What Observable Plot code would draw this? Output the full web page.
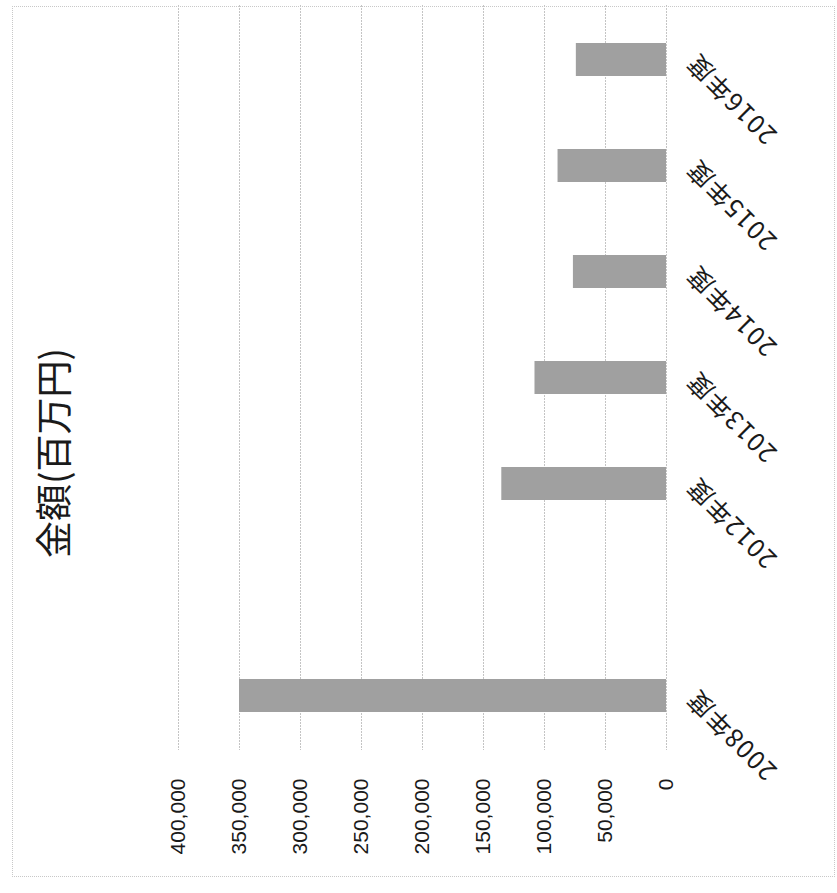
<!DOCTYPE html>
<html><head><meta charset="utf-8">
<script src="https://cdn.jsdelivr.net/npm/d3@7"></script>
<script src="https://cdn.jsdelivr.net/npm/@observablehq/plot@0.6"></script>
<style>
html,body{margin:0;padding:0;background:#fff;}
#wrap{position:relative;width:837px;height:893px;overflow:hidden;}
#border{position:absolute;left:12px;top:6px;width:821px;height:869px;border:1px dotted #c8c8c8;pointer-events:none;}
g[font-size="25"] text{letter-spacing:1.5px;}
</style></head><body>
<div id="wrap"><div id="border"></div></div>
<script>
const title = "金額(百万円)";
const categories = ["2008年度", "", "2012年度", "2013年度", "2014年度", "2015年度", "2016年度"];
const values = [350000, null, 135000, 107800, 76300, 88900, 73900];
const ticks = [0, 50000, 100000, 150000, 200000, 250000, 300000, 350000, 400000];
const tickLabels = ["0", "50,000", "100,000", "150,000", "200,000", "250,000", "300,000", "350,000", "400,000"];

const data = categories.map((c, i) => ({category: c, value: values[i]}));
const tickData = ticks.map((t, i) => ({t, label: tickLabels[i]}));

const chart = Plot.plot({
  width: 837, height: 893,
  marginLeft: 178, marginRight: 171, marginTop: 5, marginBottom: 143,
  x: {domain: [0, 400000], reverse: true, axis: null},
  y: {domain: categories, reverse: true, paddingInner: 0.69, paddingOuter: 0.345, axis: null},
  style: {background: "transparent", color: "#1a1a1a"},
  marks: [
    Plot.gridX(ticks, {stroke: "#c4c4c4", strokeOpacity: 1, strokeDasharray: "2,1"}),
    Plot.barX(data.filter(d => d.value != null), {y: "category", x: "value", fill: "#a0a0a0"}),
    Plot.text(tickData, {x: "t", text: "label", frameAnchor: "bottom", dy: 28, rotate: -90,
      textAnchor: "end", lineAnchor: "middle", fontSize: 21, fontFamily: "Liberation Sans, Arial, sans-serif", fill: "#1a1a1a"}),
    Plot.text(data, {x: () => 0, y: "category", text: "category", dx: 25, dy: -2, rotate: -135,
      textAnchor: "end", lineAnchor: "middle", fontSize: 25, fontFamily: "Noto Sans CJK JP, sans-serif", fill: "#1a1a1a"}),
    Plot.text([title], {text: d => d, frameAnchor: "left", dx: -122, dy: 75, rotate: -90,
      textAnchor: "middle", lineAnchor: "middle", fontSize: 37, fontFamily: "Noto Sans CJK JP, sans-serif", fill: "#1a1a1a"})
  ]
});
document.getElementById("wrap").appendChild(chart);
</script>
</body></html>
